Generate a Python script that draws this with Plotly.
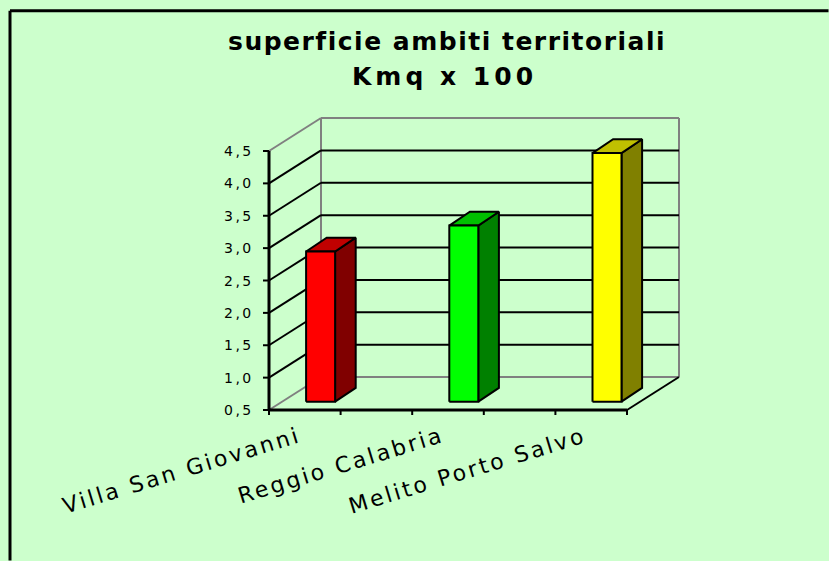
import plotly.graph_objects as go

# ---------------- data ----------------
categories = ["Villa San Giovanni", "", "Reggio Calabria", "", "Melito Porto Salvo"]
values = [2.82, None, 3.22, None, 4.34]
front_colors = ["#FF0000", None, "#00FF00", None, "#FFFF00"]
top_colors = ["#C00000", None, "#00C000", None, "#C0C000"]
side_colors = ["#800000", None, "#008000", None, "#808000"]
y_ticks = [0.5, 1.0, 1.5, 2.0, 2.5, 3.0, 3.5, 4.0, 4.5]
y_tick_labels = ["0,5", "1,0", "1,5", "2,0", "2,5", "3,0", "3,5", "4,0", "4,5"]
title_lines = ["superficie ambiti territoriali", "Kmq x 100"]

# ---------------- geometry (layout only) ----------------
W, H = 829, 561
BG = "#CCFFCC"
PX_X = 71.6          # pixels per category slot
PX_Y = 64.75         # pixels per value unit
ORIGIN = (269, 410)  # pixel position of the front-left floor corner
Y_MIN, Y_MAX = y_ticks[0], y_ticks[-1]
N = len(categories)
DX = 52 / PX_X       # depth offset of the back wall
DY = 33 / PX_Y
x_lo = -ORIGIN[0] / PX_X
x_hi = x_lo + W / PX_X
y_hi = Y_MIN + ORIGIN[1] / PX_Y
y_lo = y_hi - H / PX_Y

BAR_W = 29 / PX_X
OFF_X = 15.8 / PX_X
OFF_Y = 8.3 / PX_Y
BD_X = 20.6 / PX_X
BD_Y = 13.8 / PX_Y

fig = go.Figure()


def segments(pairs, color, width):
    xs, ys = [], []
    for (x0, y0, x1, y1) in pairs:
        xs += [x0, x1, None]
        ys += [y0, y1, None]
    fig.add_trace(go.Scatter(x=xs, y=ys, mode="lines",
                             line=dict(color=color, width=width),
                             hoverinfo="skip", showlegend=False))


def single_line(x0, y0, x1, y1, color, width):
    fig.add_trace(go.Scatter(x=[x0, x1], y=[y0, y1], mode="lines",
                             line=dict(color=color, width=width),
                             hoverinfo="skip", showlegend=False))


def poly(xs, ys, fill):
    fig.add_trace(go.Scatter(x=xs + [xs[0]], y=ys + [ys[0]], mode="lines",
                             fill="toself", fillcolor=fill,
                             line=dict(color="black", width=2),
                             hoverinfo="skip", showlegend=False))


# outer chart frame (left and top edges)
fx = x_lo + 10 / PX_X
fy = y_hi - 10.7 / PX_Y
single_line(fx, fy, fx, y_lo + 0.5 / PX_Y, "black", 3)
single_line(fx, fy, x_hi - 0.5 / PX_X, fy, "black", 3)

GRAY = "#808080"
# walls edges (grey)
segments([
    (DX, Y_MIN + DY, DX, Y_MAX + DY),
    (DX, Y_MAX + DY, N + DX, Y_MAX + DY),
    (N + DX, Y_MIN + DY, N + DX, Y_MAX + DY),
    (DX, Y_MIN + DY, N + DX, Y_MIN + DY),
    (0, Y_MAX, DX, Y_MAX + DY),
    (0, Y_MIN, DX, Y_MIN + DY),
], GRAY, 2)

# gridlines (black)
inner = y_ticks[1:-1]
segments([(DX, v + DY, N + DX, v + DY) for v in inner] +
         [(0, v, DX, v + DY) for v in inner], "black", 2)

# floor right edge
segments([(N, Y_MIN, N + DX, Y_MIN + DY)], "black", 2)

# bars
for i, v in enumerate(values):
    if v is None:
        continue
    c = i + 0.5
    xl = c - BAR_W / 2 + OFF_X
    xr = xl + BAR_W
    yb = Y_MIN + OFF_Y
    yt = v + OFF_Y
    poly([xr, xr + BD_X, xr + BD_X, xr], [yb, yb + BD_Y, yt + BD_Y, yt], side_colors[i])
    poly([xl, xr, xr + BD_X, xl + BD_X], [yt, yt, yt + BD_Y, yt + BD_Y], top_colors[i])
    poly([xl, xr, xr, xl], [yb, yb, yt, yt], front_colors[i])

# front axes
segments([(0, Y_MIN, 0, Y_MAX), (0, Y_MIN, N, Y_MIN)], "black", 3)
tick_len_x = 6 / PX_X
tick_len_y = 5 / PX_Y
segments([(-tick_len_x, v, 0, v) for v in y_ticks], "black", 2)
segments([(k, Y_MIN, k, Y_MIN - tick_len_y) for k in range(N + 1)], "black", 2)

FONT = "DejaVu Sans, Arial, sans-serif"
annotations = []
for v, lab in zip(y_ticks, y_tick_labels):
    annotations.append(dict(
        x=0, y=v, xref="x", yref="y", xanchor="right", yanchor="middle",
        xshift=-13, showarrow=False,
        text=f'<span style="letter-spacing:2.5px">{lab}</span>',
        font=dict(family=FONT, size=14, color="black")))

for i, name in enumerate(categories):
    if not name:
        continue
    annotations.append(dict(
        x=i + 0.5, y=Y_MIN, xref="x", yref="y", xanchor="right", yanchor="top",
        xshift=1, yshift=-10, textangle=-17, showarrow=False,
        text=f'<span style="letter-spacing:2.7px">{name}</span>',
        font=dict(family=FONT, size=22, color="black")))

annotations.append(dict(
    x=447 / W, y=1 - 42 / H, xref="paper", yref="paper", xanchor="center", yanchor="middle",
    showarrow=False,
    text=f'<span style="letter-spacing:1.5px">{title_lines[0]}</span>',
    font=dict(family=FONT, size=25, color="black", weight="bold")))
annotations.append(dict(
    x=445 / W, y=1 - 77 / H, xref="paper", yref="paper", xanchor="center", yanchor="middle",
    showarrow=False,
    text=f'<span style="letter-spacing:4px">{title_lines[1]}</span>',
    font=dict(family=FONT, size=25, color="black", weight="bold")))

fig.update_layout(
    width=W, height=H,
    margin=dict(l=0, r=0, t=0, b=0),
    paper_bgcolor=BG, plot_bgcolor=BG,
    showlegend=False,
    xaxis=dict(range=[x_lo, x_hi], visible=False, fixedrange=True),
    yaxis=dict(range=[y_lo, y_hi], visible=False, fixedrange=True),
    annotations=annotations,
)

fig.write_html(
    "out.html",
    config={"displayModeBar": False},
    post_script="document.body.style.margin='0';document.body.style.overflow='hidden';"
                "document.body.style.background='" + BG + "';",
)
